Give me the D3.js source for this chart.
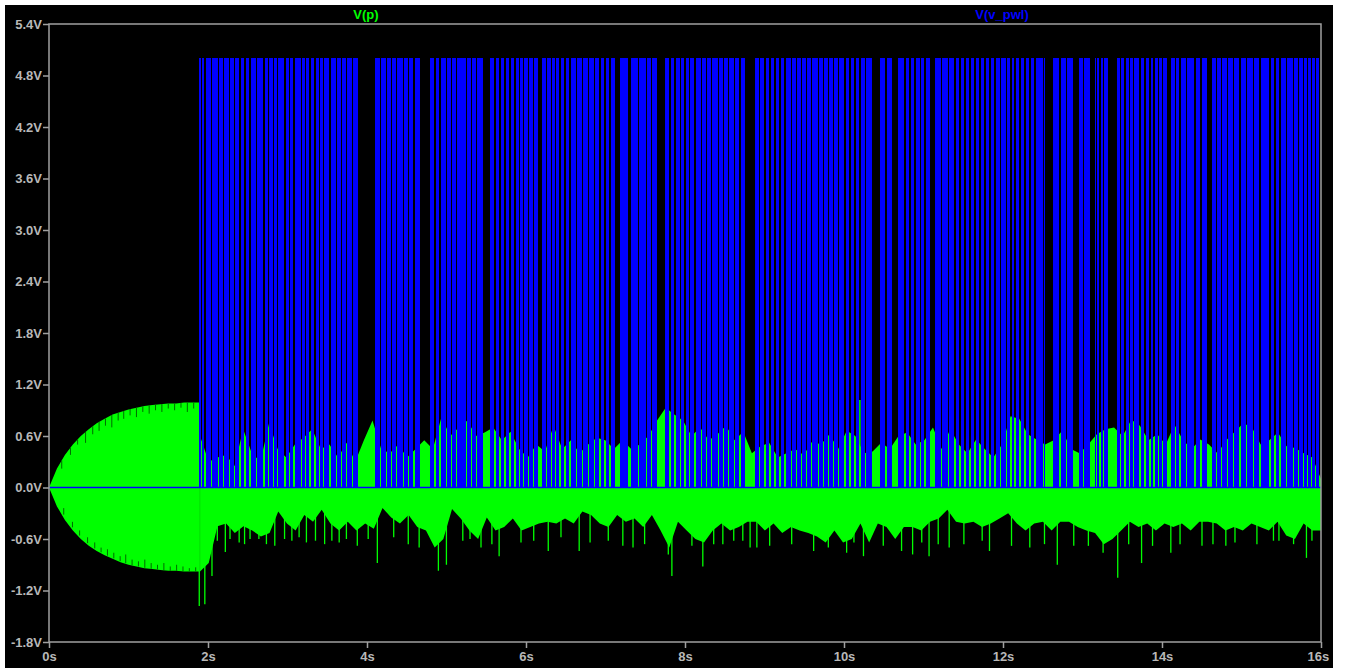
<!DOCTYPE html>
<html><head><meta charset="utf-8">
<script src="https://cdn.jsdelivr.net/npm/d3@7"></script>
<style>
html,body{margin:0;padding:0;background:#fff;}
svg{display:block;}
</style></head>
<body>
<svg id="chart" width="1345" height="668"></svg>
<script>
// ---------- data ----------
const xTicks = [0, 2, 4, 6, 8, 10, 12, 14, 16];
const xTickLabels = ["0s", "2s", "4s", "6s", "8s", "10s", "12s", "14s", "16s"];
const yTicks = [-1.8, -1.2, -0.6, 0.0, 0.6, 1.2, 1.8, 2.4, 3.0, 3.6, 4.2, 4.8, 5.4];
const yTickLabels = ["-1.8V", "-1.2V", "-0.6V", "0.0V", "0.6V", "1.2V", "1.8V", "2.4V", "3.0V", "3.6V", "4.2V", "4.8V", "5.4V"];
const seriesNames = ["V(p)", "V(v_pwl)"];

// V(p) start-up envelope (0 .. 1.9 s)
const startT  = [0, 0.1, 0.2, 0.3, 0.4, 0.5, 0.6, 0.7, 0.8, 0.9, 1.0, 1.1, 1.2, 1.3, 1.4, 1.5, 1.6, 1.7, 1.8, 1.89];
const startHi = [0, 0.22, 0.38, 0.50, 0.60, 0.68, 0.75, 0.80, 0.85, 0.88, 0.91, 0.93, 0.95, 0.96, 0.97, 0.98, 0.98, 0.99, 0.99, 0.99];
const startLo = [0, -0.22, -0.38, -0.50, -0.60, -0.68, -0.74, -0.79, -0.83, -0.87, -0.90, -0.92, -0.94, -0.95, -0.96, -0.97, -0.97, -0.98, -0.98, -0.98];
// oscillation notches inside the start-up envelope: [time s, top notch reaches down to (V), bottom notch reaches up to (V)]
const startNotches = [[0.16,0.22,-0.24],[0.27,0.38,-0.40],[0.36,0.50,-0.50],[0.46,0.52,-0.58],[0.55,0.62,-0.64],[0.63,0.66,-0.70],
  [0.71,0.72,-0.72],[0.79,0.70,-0.76],[0.87,0.78,-0.80],[0.94,0.80,-0.78],[1.02,0.84,-0.84],[1.10,0.82,-0.86],[1.18,0.88,-0.84],
  [1.26,0.86,-0.88],[1.34,0.90,-0.90],[1.42,0.88,-0.88],[1.50,0.92,-0.92],[1.58,0.90,-0.90],[1.66,0.93,-0.92],[1.74,0.88,-0.94],[1.82,0.92,-0.93]];

// V(p) after 1.9 s: sampled upper and lower envelopes (uniform samples from 1.9 s to 16 s)
const pStart = 1.9, pEnd = 16.0;
const pHi = [0.60,0.30,0.35,0.38,0.25,0.68,0.40,0.30,0.75,0.45,0.35,0.50,0.58,0.68,0.45,0.50,0.35,0.52,0.30,0.55,
  0.78,0.45,0.40,0.50,0.35,0.45,0.55,0.45,0.82,0.60,0.70,0.78,0.60,0.64,0.70,0.55,0.65,0.45,0.35,0.50,
  0.42,0.72,0.45,0.55,0.40,0.50,0.58,0.55,0.45,0.55,0.45,0.50,0.60,0.78,0.93,0.85,0.78,0.60,0.70,0.55,
  0.62,0.72,0.55,0.65,0.40,0.48,0.52,0.35,0.40,0.45,0.38,0.54,0.50,0.62,0.45,0.66,0.60,0.40,0.42,0.52,
  0.45,0.60,0.64,0.50,0.55,0.70,0.45,0.68,0.50,0.40,0.56,0.45,0.35,0.50,0.83,0.80,0.62,0.56,0.50,0.55,
  0.66,0.45,0.40,0.50,0.62,0.68,0.70,0.60,0.79,0.72,0.55,0.62,0.50,0.73,0.55,0.45,0.56,0.50,0.40,0.55,
  0.65,0.75,0.70,0.50,0.55,0.64,0.48,0.46,0.40,0.35,0.10];
const pLo = [-0.98,-0.88,-0.45,-0.42,-0.53,-0.45,-0.50,-0.57,-0.53,-0.28,
  -0.42,-0.50,-0.32,-0.40,-0.26,-0.42,-0.50,-0.40,-0.50,-0.42,
  -0.48,-0.24,-0.35,-0.42,-0.32,-0.46,-0.50,-0.70,-0.60,-0.25,
  -0.36,-0.50,-0.60,-0.35,-0.50,-0.46,-0.36,-0.50,-0.46,-0.42,
  -0.40,-0.42,-0.36,-0.42,-0.28,-0.32,-0.42,-0.46,-0.32,-0.40,
  -0.36,-0.46,-0.32,-0.50,-0.70,-0.40,-0.50,-0.60,-0.64,-0.50,
  -0.42,-0.50,-0.46,-0.40,
  -0.40,-0.50,-0.42,-0.53,-0.46,-0.50,-0.53,-0.57,-0.64,-0.50,
  -0.64,-0.60,-0.42,-0.64,-0.42,-0.46,-0.60,-0.46,-0.46,-0.50,
  -0.40,-0.36,-0.26,-0.40,-0.42,-0.40,-0.46,-0.42,-0.36,-0.30,
  -0.42,-0.50,-0.42,-0.40,-0.50,-0.40,-0.40,-0.46,-0.50,-0.53,
  -0.66,-0.60,-0.50,-0.40,-0.46,-0.42,-0.50,-0.42,-0.46,-0.42,
  -0.50,-0.40,-0.40,-0.42,-0.50,-0.46,-0.50,-0.42,-0.46,-0.50,
  -0.40,-0.56,-0.60,-0.42,-0.50,-0.50];
// narrow V(p) spikes [time s, volts]
const pNegSpikes = [[1.89,-1.38],[1.96,-1.36],[2.05,-1.03],[2.117,-0.62],[2.218,-0.75],[2.277,-0.60],[2.392,-0.64],[2.46,-0.66],
  [2.529,-0.60],[2.64,-0.60],[2.735,-0.66],[2.84,-0.68],[2.963,-0.60],[3.055,-0.62],[3.146,-0.58],[3.238,-0.64],[3.352,-0.62],
  [3.467,-0.66],[3.558,-0.62],[3.65,-0.64],[3.741,-0.60],[3.878,-0.68],[4.015,-0.60],[4.13,-0.88],[4.336,-0.58],[4.519,-0.66],
  [4.656,-0.70],[4.898,-0.97],[4.999,-0.90],[5.205,-0.62],[5.296,-0.60],[5.434,-0.70],[5.571,-0.66],[5.662,-0.80],[5.937,-0.64],
  [6.097,-0.62],[6.28,-0.74],[6.44,-0.58],[6.669,-0.74],[6.806,-0.64],[7.035,-0.62],[7.218,-0.68],[7.346,-0.70],[7.492,-0.66],
  [7.79,-0.78],[7.835,-1.03],[8.087,-0.68],[8.224,-0.92],[8.361,-0.66],[8.476,-0.66],[8.613,-0.62],[8.727,-0.62],[8.819,-0.70],
  [8.904,-0.70],[9.065,-0.68],[9.342,-0.66],[9.618,-0.74],[9.803,-0.70],[10.033,-0.76],[10.125,-0.64],[10.245,-0.80],
  [10.494,-0.68],[10.724,-0.74],[10.863,-0.78],[10.978,-0.64],[11.07,-0.80],[11.185,-0.66],[11.323,-0.70],[11.508,-0.66],
  [11.738,-0.62],[11.83,-0.74],[12.107,-0.68],[12.337,-0.70],[12.522,-0.66],[12.683,-0.90],[12.89,-0.68],[13.074,-0.68],
  [13.259,-0.76],[13.443,-1.05],[13.581,-0.66],[13.743,-0.88],[13.881,-0.68],[14.111,-0.76],[14.227,-0.66],[14.503,-0.68],
  [14.641,-0.66],[14.803,-0.68],[14.918,-0.64],[15.194,-0.66],[15.402,-0.62],[15.471,-0.62],[15.655,-0.66],[15.817,-0.82],[15.886,-0.62]];
const pPosSpikes = [[10.2, 1.02]];

// V(v_pwl): 0 / 5 V pulse train, high from 1.885 s to 15.975 s except the gaps listed
const pwlHigh = 5.0;
const pwlOn = [1.885, 15.975];
const pwlWideGaps = [[3.891,4.101],[4.667,4.792],[5.459,5.547],[6.155,6.198],[7.119,7.182],[7.287,7.321],[7.644,7.748],
  [8.755,8.881],[10.348,10.453],[10.600,10.683],[11.082,11.145],[12.528,12.625],[12.884,12.960],[13.094,13.157],
  [13.324,13.430],[14.059,14.109],[14.562,14.625]];
const pwlThinGaps = [1.92,1.962,2.047,2.130,2.192,2.268,2.335,2.403,2.465,2.528,2.613,2.704,2.76,2.821,2.872,2.969,3.025,3.082,
  3.179,3.23,3.283,3.346,3.40,3.450,3.535,3.619,3.68,3.745,3.820,4.17,4.248,4.31,4.374,4.457,4.519,4.59,4.855,4.918,5.003,
  5.065,5.128,5.254,5.317,5.380,5.61,5.673,5.736,5.80,5.862,5.915,5.966,6.03,6.092,6.26,6.323,6.375,6.428,6.49,6.553,6.638,
  6.71,6.784,6.86,6.931,6.995,7.057,7.413,7.518,7.58,7.81,7.874,7.94,8.000,8.06,8.126,8.210,8.27,8.336,8.419,8.48,8.545,
  8.62,8.692,8.94,9.006,9.07,9.132,9.195,9.258,9.342,9.405,9.468,9.53,9.594,9.677,9.74,9.803,9.865,9.928,10.013,10.075,
  10.138,10.2,10.27,10.53,10.767,10.83,10.893,10.96,11.02,11.229,11.312,11.396,11.46,11.522,11.585,11.648,11.71,11.774,
  11.835,11.899,11.97,12.047,12.10,12.151,12.215,12.277,12.34,12.403,12.507,12.717,12.80,13.010,13.178,13.220,13.262,
  13.48,13.535,13.59,13.639,13.723,13.785,13.849,13.90,13.953,14.005,14.17,14.226,14.311,14.415,14.49,14.69,14.751,14.82,
  14.897,14.98,15.065,15.149,15.233,15.358,15.42,15.484,15.57,15.652,15.715,15.777,15.83,15.883,15.93];
const pwlThinGapWidth = 0.016;

// ---------- drawing ----------
const svg = d3.select("#chart");
const GREEN = "#00ff00", BLUE = "#0000ff", GRAY = "#a0a0a0", TXT = "#b8b8b8";
const x = d3.scaleLinear().domain([0, 16]).range([49, 1321]);
const y = d3.scaleLinear().domain([-1.8, 5.4]).range([642, 24]);

svg.append("rect").attr("x", 5).attr("y", 5).attr("width", 1328).attr("height", 663).attr("fill", "#000");

const plot = svg.append("g");
// start-up envelope
const startData = startT.map((t, i) => ({t, hi: startHi[i], lo: startLo[i]}));
plot.append("path").datum(startData)
  .attr("d", d3.area().x(d => x(d.t)).y0(d => y(d.lo)).y1(d => y(d.hi)))
  .attr("fill", GREEN);
const hiAt = t => d3.scaleLinear().domain(startT).range(startHi)(t);
const loAt = t => d3.scaleLinear().domain(startT).range(startLo)(t);
plot.selectAll("line.notchT").data(startNotches).join("line").attr("class", "notchT")
  .attr("x1", d => x(d[0])).attr("x2", d => x(d[0])).attr("y1", d => y(hiAt(d[0]))).attr("y2", d => y(d[1]))
  .attr("stroke", "#006a00").attr("stroke-width", 1);
plot.selectAll("line.notchB").data(startNotches).join("line").attr("class", "notchB")
  .attr("x1", d => x(d[0]) + 2).attr("x2", d => x(d[0]) + 2).attr("y1", d => y(loAt(d[0]))).attr("y2", d => y(d[2]))
  .attr("stroke", "#006a00").attr("stroke-width", 1);

const n = pHi.length, m = pLo.length;
const hiData = pHi.map((v, i) => ({t: pStart + i * (pEnd - pStart) / (n - 1), v}));
const loData = pLo.map((v, i) => ({t: pStart + i * (pEnd - pStart) / (m - 1), v}));
plot.append("path").datum(hiData)
  .attr("d", d3.area().x(d => x(d.t)).y0(y(0)).y1(d => y(d.v)))
  .attr("fill", GREEN);
plot.append("path").datum(loData)
  .attr("d", d3.area().x(d => x(d.t)).y0(y(0)).y1(d => y(d.v)))
  .attr("fill", GREEN);
plot.selectAll("line.neg").data(pNegSpikes).join("line").attr("class", "neg")
  .attr("x1", d => x(d[0])).attr("x2", d => x(d[0]))
  .attr("y1", y(0)).attr("y2", d => y(d[1]))
  .attr("stroke", GREEN).attr("stroke-width", 1.3);

// pulses = complement of gaps
const gaps = pwlWideGaps.concat(pwlThinGaps.map(c => [c - pwlThinGapWidth / 2, c + pwlThinGapWidth / 2]))
  .sort((a, b) => a[0] - b[0]);
const pulses = [];
let cur = pwlOn[0];
gaps.forEach(g => { if (g[0] > cur) pulses.push([cur, g[0]]); cur = Math.max(cur, g[1]); });
if (cur < pwlOn[1]) pulses.push([cur, pwlOn[1]]);
plot.selectAll("rect.pulse").data(pulses).join("rect").attr("class", "pulse")
  .attr("x", d => x(d[0])).attr("width", d => x(d[1]) - x(d[0]))
  .attr("y", y(pwlHigh)).attr("height", y(0) - y(pwlHigh))
  .attr("fill", BLUE).attr("shape-rendering", "crispEdges");
plot.selectAll("line.pos").data(pPosSpikes).join("line").attr("class", "pos")
  .attr("x1", d => x(d[0])).attr("x2", d => x(d[0]))
  .attr("y1", y(0)).attr("y2", d => y(d[1]))
  .attr("stroke", GREEN).attr("stroke-width", 1.5);
// v_pwl low level line
plot.append("line").attr("x1", x(0)).attr("x2", x(16)).attr("y1", y(0)).attr("y2", y(0))
  .attr("stroke", BLUE).attr("stroke-width", 1.5);

// frame
svg.append("rect").attr("x", x(0)).attr("y", y(5.4)).attr("width", x(16) - x(0)).attr("height", y(-1.8) - y(5.4))
  .attr("fill", "none").attr("stroke", GRAY).attr("stroke-width", 1.5);

// axes
const yAxis = svg.append("g").attr("transform", `translate(${x(0)},0)`)
  .call(d3.axisLeft(y).tickValues(yTicks).tickFormat((d, i) => yTickLabels[i]).tickSize(6).tickPadding(1));
const xAxis = svg.append("g").attr("transform", `translate(0,${y(-1.8)})`)
  .call(d3.axisBottom(x).tickValues(xTicks).tickFormat((d, i) => xTickLabels[i]).tickSize(6).tickPadding(4));
[yAxis, xAxis].forEach(a => {
  a.select(".domain").remove();
  a.selectAll("line").attr("stroke", GRAY).attr("stroke-width", 1.5);
  a.selectAll("text").attr("fill", TXT).style("font-family", "'Liberation Sans', Arial, sans-serif")
    .style("font-size", "13px").style("font-weight", "bold");
});
xAxis.selectAll("text").filter((d, i) => i === xTicks.length - 1).attr("text-anchor", "end").attr("dx", "0.6em");

// series titles
const titleX = [366, 1002], titleColor = [GREEN, BLUE];
svg.selectAll("text.title").data(seriesNames).join("text").attr("class", "title")
  .attr("x", (d, i) => titleX[i]).attr("y", 19).attr("text-anchor", "middle")
  .attr("fill", (d, i) => titleColor[i])
  .style("font-family", "'Liberation Sans', Arial, sans-serif").style("font-size", "13px").style("font-weight", "bold")
  .text(d => d);
</script>
</body></html>
